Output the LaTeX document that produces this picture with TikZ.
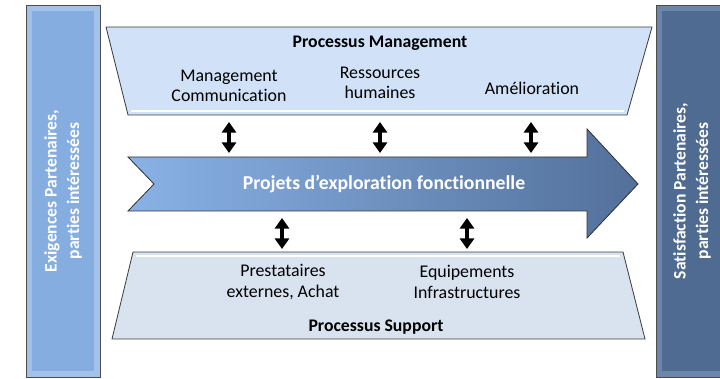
\documentclass[tikz,border=0pt]{standalone}
\usepackage{fontspec}
\setmainfont{Carlito}[Ligatures=NoCommon]
\usetikzlibrary{arrows.meta}
\definecolor{barleft}{HTML}{86ADDF}
\definecolor{barleftrim}{HTML}{A3C2EA}
\definecolor{barright}{HTML}{4F6B91}
\definecolor{barrightrim}{HTML}{6B86AB}
\definecolor{mgmtfill}{HTML}{D1E2F8}
\definecolor{suppfill}{HTML}{D8E3EF}
\definecolor{projleft}{HTML}{8AB2E6}
\definecolor{projright}{HTML}{52709A}

\tikzset{
  sidebar/.style={draw=black!70, line width=0.6pt},
  sidetext/.style={text=white, font=\bfseries\fontsize{12.5}{16}\selectfont, align=center, rotate=90},
  procbox/.style={draw=black!75, line width=0.6pt},
  itemtext/.style={font=\fontsize{12.7}{14.5}\selectfont, align=center},
  titletext/.style={font=\bfseries\fontsize{12.6}{14}\selectfont},
  dblarrow/.style={line width=3pt, {Triangle[width=10pt,length=7.5pt]}-{Triangle[width=10pt,length=7.5pt]}}
}

\begin{document}
\begin{tikzpicture}[x=0.025cm, y=-0.025cm]
\useasboundingbox (0,0) rectangle (720,379);

% side bars
\filldraw[sidebar, fill=barleftrim] (26,5) rectangle (100,377);
\fill[barleft] (32,11) rectangle (94,371);
\filldraw[sidebar, fill=barrightrim] (656,5) rectangle (722,377);
\fill[barright] (662,11) rectangle (722,371);
\node[sidetext] (exig) at (63,191) {Exigences Partenaires,\\parties intéressées};
\node[sidetext] (satis) at (692,191) {Satisfaction Partenaires,\\parties intéressées};

% processus management
\filldraw[procbox, fill=mgmtfill] (106,27) -- (652,27) -- (627,115) -- (128,115) -- cycle;
\draw[white, line width=1pt] (131,111) -- (624,111);
\node[titletext] (tmgmt) at (380,43) {Processus Management};
\node[itemtext] (comm) at (229,86) {Management\\Communication};
\node[itemtext] (rh) at (380,83) {Ressources\\humaines};
\node[itemtext] (amel) at (532,88) {Amélioration};

% projets
\shade[left color=projleft, right color=projright, draw=black!80, line width=0.6pt]
  (128,157) -- (587,157) -- (587,129) -- (638,184) -- (587,238) -- (587,211)
  -- (128,211) -- (154,184) -- cycle;
\node[text=white, font=\bfseries\fontsize{14}{16}\selectfont] (proj) at (384,184)
  {Projets d’exploration fonctionnelle};

% processus support
\filldraw[procbox, fill=suppfill] (133,252) -- (623,252) -- (645,339) -- (112,339) -- cycle;
\draw[white, line width=1pt] (136,256) -- (620,256);
\node[itemtext] (presta) at (283,282) {Prestataires\\externes, Achat};
\node[itemtext] (equip) at (467,282) {Equipements\\Infrastructures};
\node[titletext] (tsupp) at (376,327) {Processus Support};

% double arrows
\foreach \x/\n in {229/a,380/b,531/c}{
  \coordinate (top\n) at (\x,122);
  \coordinate (bot\n) at (\x,153);
  \draw[dblarrow] (top\n) -- (bot\n);
}
\foreach \x/\n in {282/d,467/e}{
  \coordinate (top\n) at (\x,218);
  \coordinate (bot\n) at (\x,249);
  \draw[dblarrow] (top\n) -- (bot\n);
}
\end{tikzpicture}
\end{document}
